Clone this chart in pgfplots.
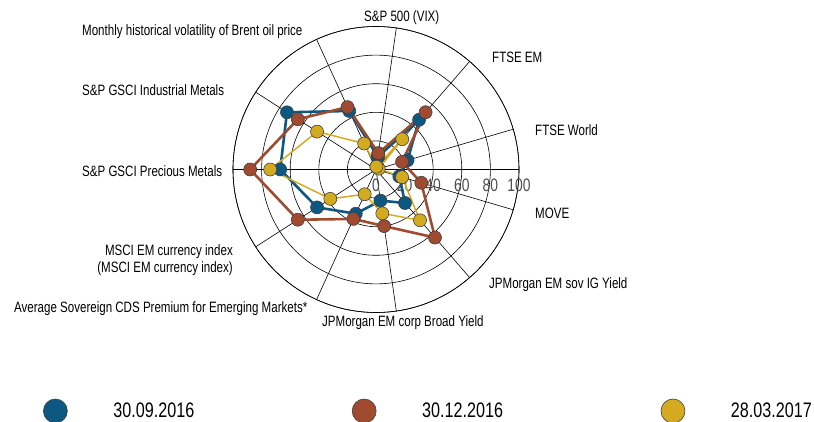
\documentclass[border=0pt]{standalone}
\usepackage{pgfplots}
\pgfplotsset{compat=1.18}
\usepgfplotslibrary{polar}
\usepackage{fontspec}
\setmainfont{Liberation Sans}[FakeStretch=0.77]
\definecolor{cblue}{RGB}{12,88,130}
\definecolor{cbrown}{RGB}{160,74,48}
\definecolor{cyellow}{RGB}{212,170,32}
\newcommand{\lbl}{\fontsize{15}{17}\selectfont}
\begin{document}
\begin{tikzpicture}[lab/.style={font=\lbl, inner sep=0pt}]
\path[use as bounding box] (-376pt,169.5pt) rectangle (438pt,-252.5pt);
\begin{polaraxis}[
  at={(0pt,0pt)}, anchor=center,
  width=286pt, height=286pt, scale only axis,
  ymin=0, ymax=100,
  xtick={0,16.364,49.091,81.818,114.545,147.273,180,212.727,245.455,278.182,310.909,343.636},
  xticklabels={},
  ytick={0,20,40,60,80,100},
  xmajorgrids, ymajorgrids,
  major grid style={black, line width=0.6pt},
  axis line style={black, line width=0.6pt},
  major tick length=0pt,
  /pgf/number format/assume math mode=true,
  yticklabel style={font=\fontsize{18}{18}\selectfont, text=black!70, anchor=north, yshift=-6pt},
  legend style={at={(-0.664,-0.3444)}, anchor=west, draw=none, fill=none,
    inner sep=0pt, outer sep=0pt, legend columns=3,
    font=\fontsize{21}{21}\selectfont,
    /tikz/column sep=0pt,
    nodes={inner sep=0pt, text width=238.5pt, align=left}},
  legend cell align=left,
]
\addplot[cblue, line width=2.6pt, mark=*, mark size=6.5pt,
  mark options={fill=cblue, draw=black!75, line width=0.6pt}, forget plot]
  coordinates {(81.818,9) (49.091,46) (16.364,23) (343.636,17) (310.909,31)
  (278.182,22) (245.455,34) (212.727,49) (180,67) (147.273,74) (114.545,45) (81.818,9)};
\addplot[cbrown, line width=2.6pt, mark=*, mark size=6.5pt,
  mark options={fill=cbrown, draw=black!75, line width=0.6pt}, forget plot]
  coordinates {(81.818,11.5) (49.091,53) (16.364,19) (343.636,33) (310.909,63)
  (278.182,40) (245.455,38) (212.727,65) (180,88) (147.273,65) (114.545,48) (81.818,11.5)};
\addplot[cyellow, line width=1.5pt, mark=*, mark size=6.5pt,
  mark options={fill=cyellow, draw=black!75, line width=0.6pt}, forget plot]
  coordinates {(81.818,2) (49.091,28) (16.364,2) (343.636,19) (310.909,47)
  (278.182,31) (245.455,19) (212.727,38) (180,74) (147.273,49) (114.545,20) (81.818,2)};
\addlegendimage{legend image code/.code={\filldraw[fill=cblue, draw=black!75, line width=0.6pt] (12pt,0pt) circle (12pt); \path[draw=none, fill=none] (0pt,0pt) -- (70pt,0pt);}}
\addlegendentry{30.09.2016}
\addlegendimage{legend image code/.code={\filldraw[fill=cbrown, draw=black!75, line width=0.6pt] (12pt,0pt) circle (12pt); \path[draw=none, fill=none] (0pt,0pt) -- (70pt,0pt);}}
\addlegendentry{30.12.2016}
\addlegendimage{legend image code/.code={\filldraw[fill=cyellow, draw=black!75, line width=0.6pt] (12pt,0pt) circle (12pt); \path[draw=none, fill=none] (0pt,0pt) -- (70pt,0pt);}}
\addlegendentry{28.03.2017}
\end{polaraxis}
\node[anchor=west, lab] at (-12pt,151.5pt) {S\&P 500 (VIX)};
\node[anchor=west, lab] at (-294pt,137.5pt) {Monthly historical volatility of Brent oil price};
\node[anchor=west, lab] at (116pt,112.5pt) {FTSE EM};
\node[anchor=west, lab] at (-294pt,79.5pt) {S\&P GSCI Industrial Metals};
\node[anchor=west, lab] at (159pt,39.5pt) {FTSE World};
\node[anchor=west, lab] at (-294pt,-1.5pt) {S\&P GSCI Precious Metals};
\node[anchor=west, lab] at (159pt,-43.5pt) {MOVE};
\node[anchor=east, lab, align=right] at (-143pt,-90.5pt) {MSCI EM currency index\\(MSCI EM currency index)};
\node[anchor=west, lab] at (-362pt,-139.5pt) {Average Sovereign CDS Premium for Emerging Markets*};
\node[anchor=west, lab] at (-54pt,-153.5pt) {JPMorgan EM corp Broad Yield};
\node[anchor=west, lab] at (113pt,-115.5pt) {JPMorgan EM sov IG Yield};
\end{tikzpicture}
\end{document}
